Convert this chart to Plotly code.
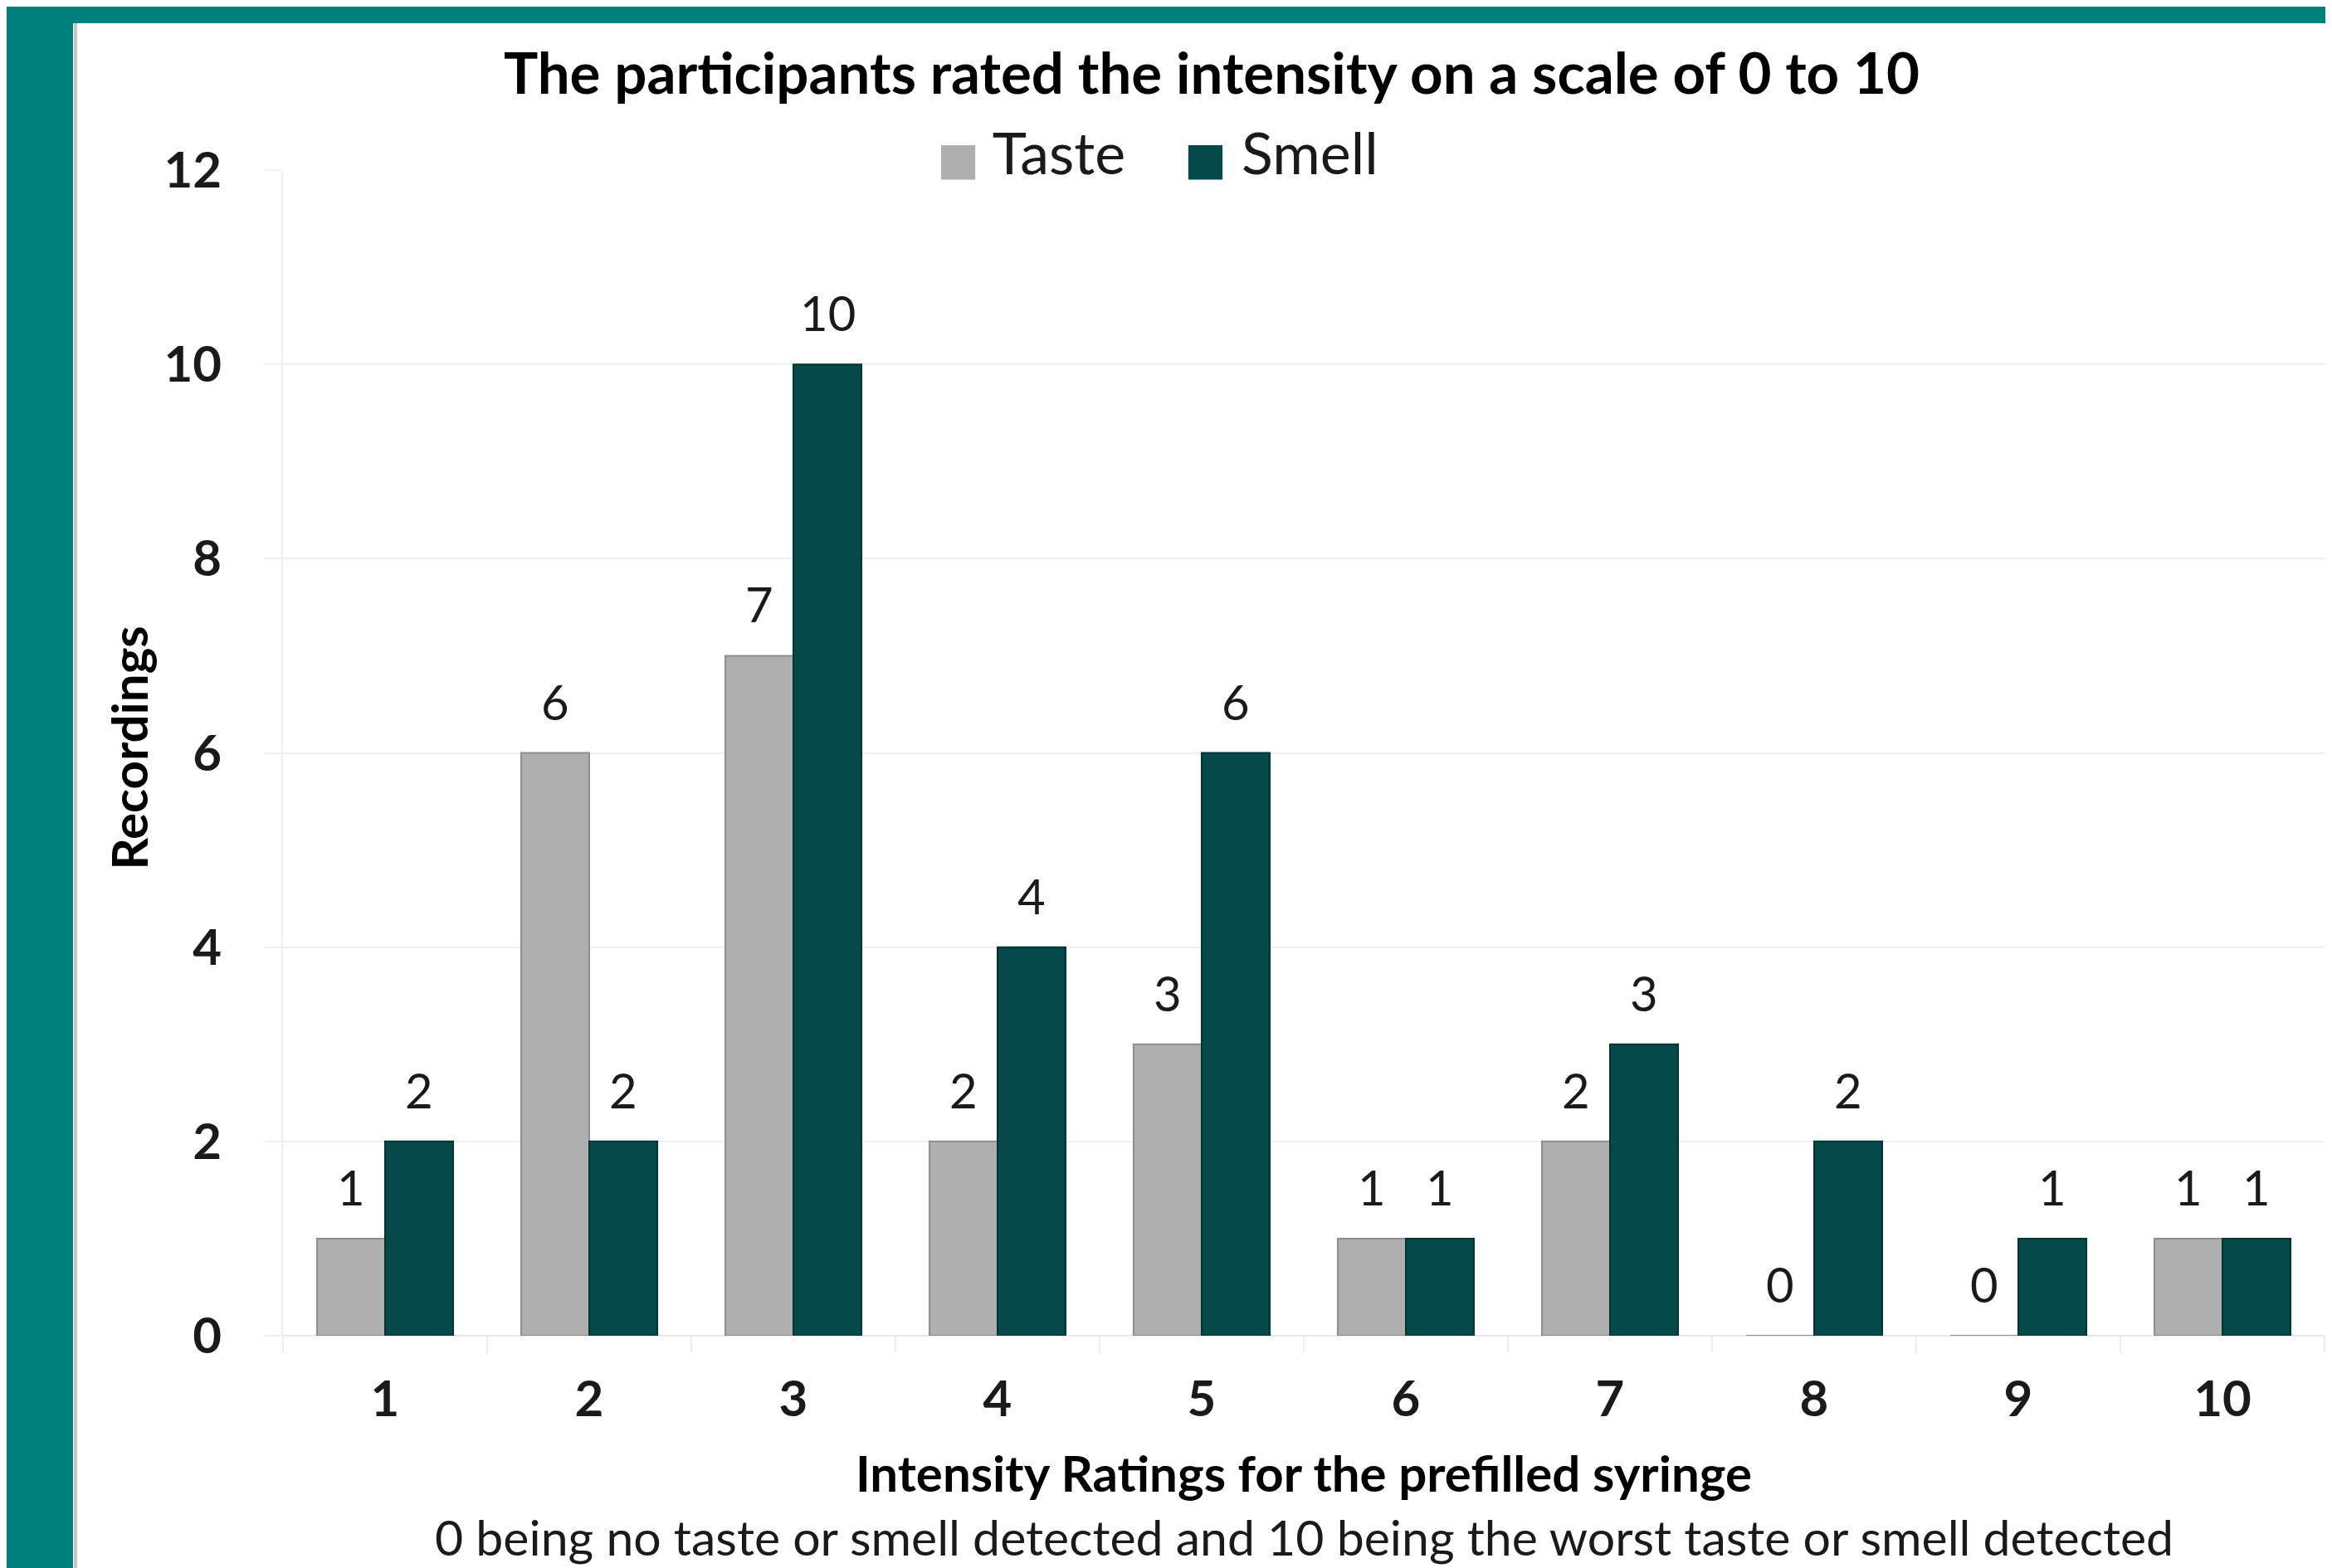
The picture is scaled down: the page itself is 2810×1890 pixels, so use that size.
import plotly.graph_objects as go

categories = ["1", "2", "3", "4", "5", "6", "7", "8", "9", "10"]
taste = [1, 6, 7, 2, 3, 1, 2, 0, 0, 1]
smell = [2, 2, 10, 4, 6, 1, 3, 2, 1, 1]
y_ticks = [0, 2, 4, 6, 8, 10, 12]
series_names = ["Taste", "Smell"]

W, H = 2810, 1890
ML, MR, MT, MB = 333, 17, 197, 288
PW, PH = W - ML - MR, H - MT - MB

FONT = "Lato, 'Open Sans', sans-serif"
TXT = "#1a1a1a"
GRAY = "#AFAFAF"
TEAL = "#06494A"
BORDER = "#00807C"

fig = go.Figure()
fig.add_trace(go.Bar(name=series_names[0], x=categories, y=taste, showlegend=False,
                     marker=dict(color=GRAY, line=dict(color="#8E8E8E", width=2))))
fig.add_trace(go.Bar(name=series_names[1], x=categories, y=smell, showlegend=False,
                     marker=dict(color=TEAL, line=dict(color="#033535", width=2))))
# legend entries: large square swatch drawn as a glyph in the legend text
for nm, col in zip(series_names, (GRAY, TEAL)):
    label = (f"<span style='font-family:DejaVu Sans;font-size:54px;color:{col}'>■</span> {nm}")
    fig.add_trace(go.Scatter(name=label, x=[None], y=[None], mode="markers",
                             marker=dict(symbol="square", size=10, color="rgba(0,0,0,0)")))

bar_px = PW / len(categories) * (1 - 0.333) / 2
annotations = []
for series, shift in ((taste, -bar_px / 2), (smell, bar_px / 2)):
    for i, v in enumerate(series):
        annotations.append(dict(x=i, y=v, xref="x", yref="y", text=str(v), showarrow=False,
                                xshift=shift, yshift=26, yanchor="bottom",
                                font=dict(family=FONT, size=58, color=TXT)))

annotations += [
    dict(text="<b>Intensity Ratings for the prefilled syringe</b>", x=0.5, y=-(1767 - (H - MB)) / PH,
         xref="paper", yref="paper", showarrow=False, yanchor="middle",
         font=dict(family=FONT, size=60, color="#000000")),
    dict(text="0 being no taste or smell detected and 10 being the worst taste or smell detected", x=0.5,
         y=-(1844 - (H - MB)) / PH, xref="paper", yref="paper", showarrow=False, yanchor="middle",
         font=dict(family=FONT, size=59, color=TXT)),
    dict(text="<b>Recordings</b>", x=-(ML - 146) / PW, y=0.5 + 6 / PH, xref="paper", yref="paper",
         showarrow=False, textangle=-90, xanchor="center", yanchor="middle",
         font=dict(family=FONT, size=60, color="#000000")),
]

shapes = [
    dict(type="rect", xref="paper", yref="paper", x0=-(ML + 50) / PW, x1=(W - ML + 50) / PW,
         y0=1 + (MT - 20) / PH, y1=1 + (MT + 50) / PH, fillcolor=BORDER, line_width=0, layer="below"),
    dict(type="rect", xref="paper", yref="paper", x0=-(ML + 50) / PW, x1=-(ML - 80) / PW,
         y0=-(MB + 50) / PH, y1=1 + (MT + 50) / PH, fillcolor=BORDER, line_width=0, layer="below"),
    dict(type="line", xref="paper", yref="paper", x0=-(ML - 83) / PW, x1=-(ML - 83) / PW,
         y0=-(MB + 50) / PH, y1=1 + (MT - 20) / PH, line=dict(color="#C8C8C8", width=4), layer="below"),
]

fig.update_layout(
    width=W, height=H,
    margin=dict(l=ML, r=MR, t=MT, b=MB, autoexpand=False),
    paper_bgcolor="white", plot_bgcolor="white",
    barmode="group", bargap=0.333, bargroupgap=0,
    title=dict(text="<b>The participants rated the intensity on a scale of 0 to 10</b>",
               x=1452 / W, xanchor="center", y=1 - 81 / H, yanchor="middle",
               font=dict(family=FONT, size=69, color="#000000")),
    legend=dict(orientation="h", x=(1081 - ML) / PW, xanchor="left", y=1 + 22 / PH, yanchor="middle",
                font=dict(family=FONT, size=70, color=TXT),
                bgcolor="rgba(0,0,0,0)", traceorder="normal", entrywidth=253, itemwidth=30),
    xaxis=dict(type="category", tickson="boundaries", ticks="outside", ticklen=20,
               tickcolor="#EDEDED", tickwidth=2, showgrid=False, showline=False,
               range=[-0.5, 9.5],
               tickfont=dict(family=FONT, size=60, color=TXT, weight="bold"),
               ticklabelstandoff=36),
    yaxis=dict(range=[0, 12], tickvals=y_ticks, showgrid=True, gridcolor="#F0F0F0", gridwidth=2,
               zeroline=True, zerolinecolor="#E8E8E8", zerolinewidth=2,
               showline=True, linecolor="#F0F0F0", linewidth=2,
               ticks="outside", ticklen=20, tickcolor="#F0F0F0", tickwidth=2,
               tickfont=dict(family=FONT, size=60, color=TXT, weight="bold"),
               ticklabelstandoff=40),
    annotations=annotations, shapes=shapes, showlegend=True,
)

fig.write_html("out.html")
